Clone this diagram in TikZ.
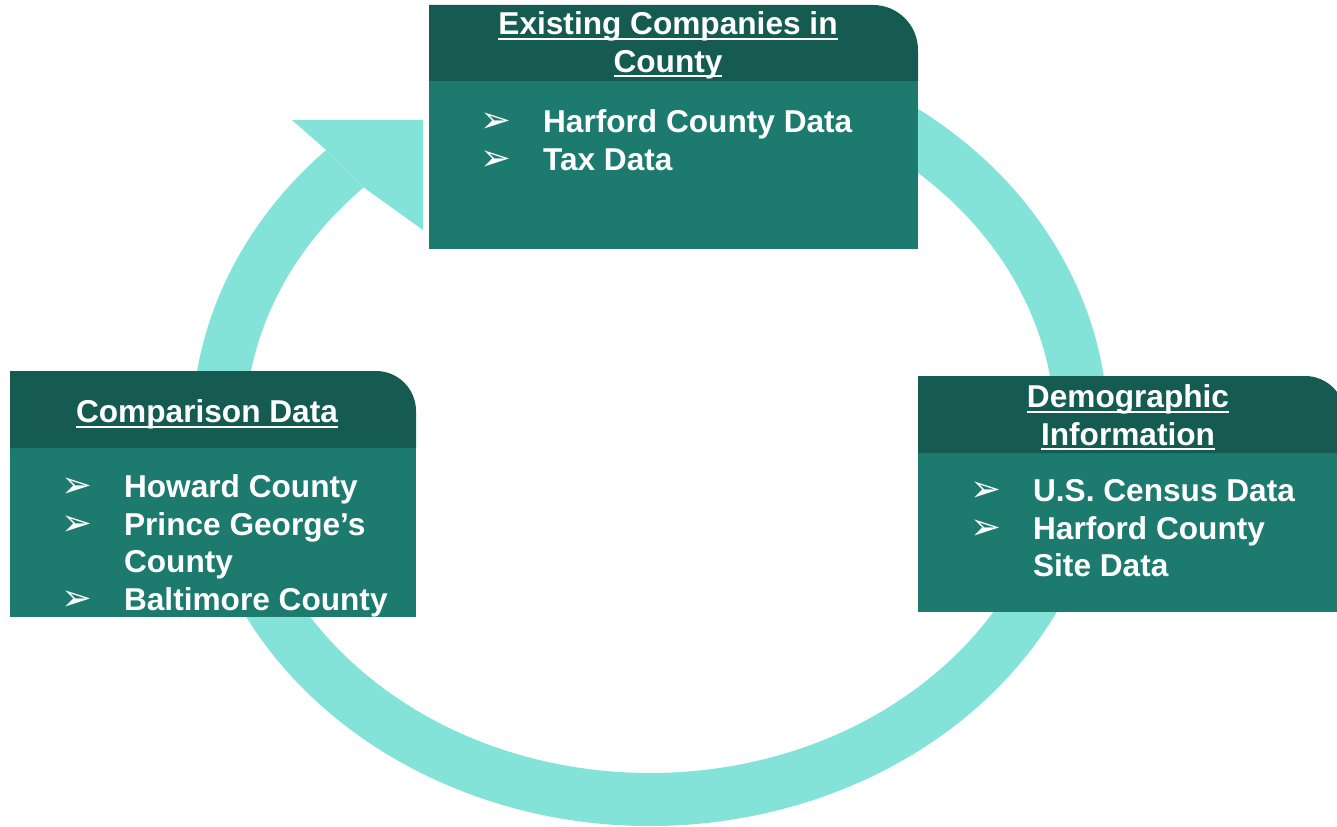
\documentclass[tikz,border=0pt]{standalone}
\usepackage{fontspec}
\setmainfont{Liberation Sans}
\newfontfamily\dingfont{DejaVu Sans}
\usetikzlibrary{calc}

\definecolor{ringcol}{RGB}{132,227,216}
\definecolor{headcol}{RGB}{22,91,82}
\definecolor{bodycol}{RGB}{28,122,110}

% underline each title line at the same depth
\newcommand{\hdul}[1]{\setbox0=\hbox{#1}\rlap{\rule[-3pt]{\wd0}{1.1pt}}\box0}
% list bullet and the indent of a wrapped item
\newcommand{\bul}{\makebox[35.7pt][l]{\dingfont\fontsize{21}{21.5}\selectfont ➢}}
\newcommand{\cont}{\hspace*{35.7pt}}

\begin{document}
\begin{tikzpicture}[
    x=0.02cm, y=0.02cm,
    font=\bfseries\fontsize{18}{21.5}\selectfont,
    every node/.style={text=white, inner sep=0pt},
    ring/.style={fill=ringcol},
    headfill/.style={fill=headcol},
    bodyfill/.style={fill=bodycol},
    headtext/.style={align=center, anchor=north},
    listtext/.style={align=left, anchor=north west}
    ]
    \useasboundingbox (0,0) rectangle (1337,826);
    \clip (0,0) rectangle (1337,826);

    % the cycle: a thick ring ending in an arrowhead at the top left
    \coordinate (ctr) at (650,396);
    \fill[ring] ($(ctr)+(60:458 and 396)$)
        arc[start angle=60, end angle=-225, x radius=458, y radius=396] coordinate (tail-out)
        -- ($(ctr)+(135:405 and 343)$) coordinate (tail-in)
        arc[start angle=-225, end angle=60, x radius=405, y radius=343] -- cycle;
    \fill[ring] (tail-out) -- (292,706) -- (423,706) -- (423,596) -- (tail-in) -- cycle;

    % top box
    \fill[bodyfill] (429,577) rectangle (918,745);
    \fill[headfill] (429,745) -- (429,821) -- (873,821)
        arc[start angle=90, end angle=0, radius=45] -- (918,745) -- cycle;
    \node[headtext] (companies) at (668,815) {\hdul{Existing Companies in}\\\hdul{County}};
    \node[listtext] (companies-list) at (480,717)
        {\bul Harford County Data\\\bul Tax Data};

    % left box
    \fill[bodyfill] (10,209) rectangle (416,378);
    \fill[headfill] (10,378) -- (10,455) -- (376,455)
        arc[start angle=90, end angle=0, radius=40] -- (416,378) -- cycle;
    \node[headtext] (comparison) at (207,427) {\hdul{Comparison Data}};
    \node[listtext] (comparison-list) at (61,352)
        {\bul Howard County\\\bul Prince George’s\\\cont County\\\bul Baltimore County};

    % right box
    \fill[bodyfill] (918,214) rectangle (1345,373);
    \fill[headfill] (918,373) -- (918,450) -- (1305,450)
        arc[start angle=90, end angle=0, radius=40] -- (1345,373) -- cycle;
    \node[headtext] (demographic) at (1128,442) {\hdul{Demographic}\\\hdul{Information}};
    \node[listtext] (demographic-list) at (970,347)
        {\bul U.S. Census Data\\\bul Harford County\\\cont Site Data};
\end{tikzpicture}
\end{document}
